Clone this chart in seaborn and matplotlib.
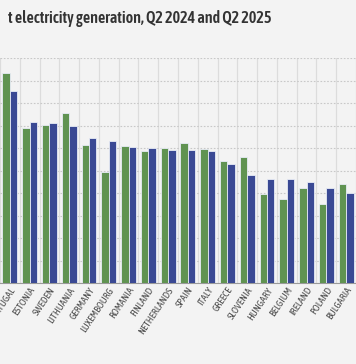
import matplotlib
matplotlib.use("Agg")
import matplotlib.pyplot as plt
from matplotlib import font_manager
import seaborn as sns
import pandas as pd

#---------------------------Data-------------------------------
countries = ["PORTUGAL", "ESTONIA", "SWEDEN", "LITHUANIA", "GERMANY", "LUXEMBOURG",
             "ROMANIA", "FINLAND", "NETHERLANDS", "SPAIN", "ITALY", "GREECE",
             "SLOVENIA", "HUNGARY", "BELGIUM", "IRELAND", "POLAND", "BULGARIA"]
q2_2024 = [93.3, 68.8, 70.5, 75.7, 61.4, 49.5, 60.8, 58.7, 60.1, 62.2, 59.5, 54.2,
           55.9, 39.5, 37.2, 42.3, 35.0, 44.1]
q2_2025 = [85.6, 71.5, 71.1, 69.9, 64.7, 63.3, 60.7, 59.9, 59.2, 59.2, 58.6, 52.8,
           48.2, 46.4, 46.4, 44.8, 42.1, 40.2]
periods = ["Q2 2024", "Q2 2025"]
title = "t electricity generation, Q2 2024 and Q2 2025"

green = "#5a9e46"
blue = "#2b3fa3"
bg = "#f3f3f3"

df = pd.DataFrame({"country": countries * 2,
                   "period": [periods[0]] * len(countries) + [periods[1]] * len(countries),
                   "value": q2_2024 + q2_2025})

# pick a condensed font if one is around
have = set(f.name for f in font_manager.fontManager.ttflist)
font = "DejaVu Sans"
for cand in ["Asap Condensed", "Barlow Condensed", "Archivo Narrow", "Liberation Sans Narrow"]:
    if cand in have:
        font = cand
        break

#---------------------------Plot-------------------------------
sns.set_style("white")
plt.rcParams["font.family"] = [font, "DejaVu Sans"]

fig = plt.figure(figsize=(3.56, 3.64), dpi=100, facecolor=bg)
ax = fig.add_axes([0, 0.2225, 1, 0.6173])
ax.set_facecolor(bg)

sns.barplot(data=df, x="country", y="value", hue="period", order=countries,
            palette=[green, blue], width=0.75, edgecolor="#e8ecf6", linewidth=0.6,
            legend=False, ax=ax, zorder=3)

ax.set_ylim(0, 100)
ax.set_yticks(range(0, 101, 10))
ax.set_xlim(-0.11, 17.05)
ax.set_xticks([i + 0.5 for i in range(-1, len(countries))], minor=True)
ax.grid(axis="y", which="major", linestyle=(0, (1.5, 1.5)), color="#c8c8c8", linewidth=0.8, zorder=0)
ax.grid(axis="x", which="minor", linestyle="-", color="#dcdcdc", linewidth=0.9, zorder=0)
ax.grid(axis="x", which="major", visible=False)
ax.tick_params(axis="x", which="both", length=0, pad=2)
ax.tick_params(axis="y", left=False, labelleft=False)
ax.set_xticks(range(len(countries)))
ax.set_xticklabels(countries, rotation=56, ha="right", rotation_mode="anchor",
                   fontsize=7.2, color="#4a4a4a")
ax.set_xlabel("")
ax.set_ylabel("")
for s in ["top", "left", "right"]:
    ax.spines[s].set_visible(False)
ax.spines["bottom"].set_color("#9a9a9a")
ax.spines["bottom"].set_linewidth(0.8)

fig.text(0.022, 0.948, title, fontsize=11.5, fontweight="semibold", color="#333333",
         ha="left", va="center")

fig.savefig("out.png", dpi=100, facecolor=bg)
